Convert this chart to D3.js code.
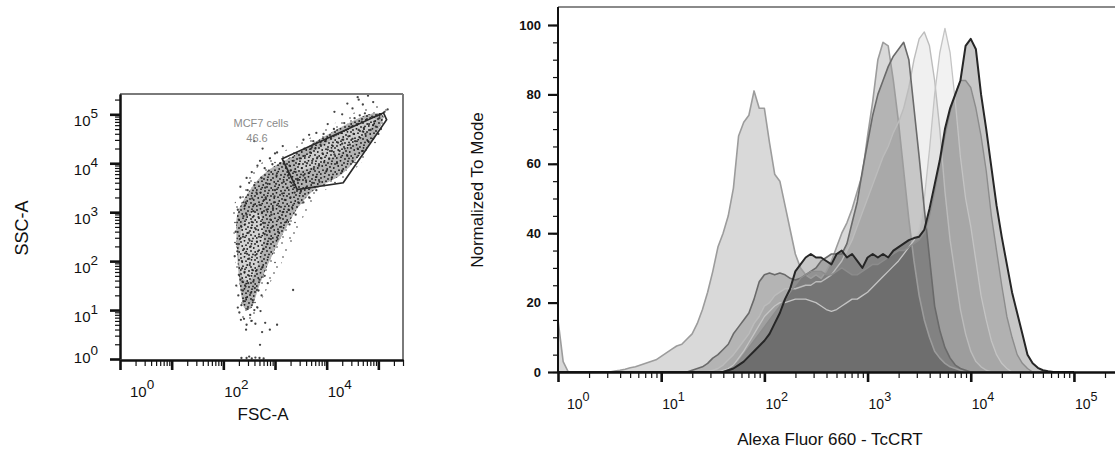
<!DOCTYPE html>
<html><head><meta charset="utf-8">
<script src="https://cdn.jsdelivr.net/npm/d3@7"></script>
<style>
html,body{margin:0;padding:0;background:#fff;}
svg{display:block;font-family:"Liberation Sans",Arial,sans-serif;}
</style></head><body>
<svg id="chart" width="1115" height="452"></svg>
<script>
// ---------- FSC-A / SSC-A dot plot (values are log10 of the channel) ----------
const scatterEvents = [
  // lower tail of the cloud
  [2.31,0.95],[2.35,1.10],[2.40,0.82],[2.44,1.25],[2.38,1.40],[2.52,0.90],[2.48,1.55],[2.33,1.62],
  [2.57,1.20],[2.61,1.45],[2.29,1.30],[2.45,0.70],[2.55,0.78],[2.66,1.05],[2.70,1.62],[2.41,1.78],
  [2.36,1.85],[2.50,1.70],[2.63,1.80],[2.74,1.30],[2.28,1.05],[2.47,1.02],[2.58,1.58],[2.39,1.18],
  [2.53,1.35],[2.34,0.80],[2.68,1.40],[2.80,1.70],[2.86,1.55],[2.43,1.48],[2.60,1.00],[2.25,1.50],
  [2.30,1.72],[2.76,1.88],[2.51,1.92],[2.44,0.60],[2.62,0.72],[2.72,0.98],[2.37,1.58],[2.56,1.82],
  [2.71,0.29],[2.45,0.02],[2.55,0.01],[2.62,0.03],[2.70,0.02],[2.78,0.01],[2.35,0.02],[2.50,0.05],
  [3.04,0.70],[2.75,0.55],[2.90,0.60],[2.81,0.74],[3.35,1.41],
  // main body
  [2.22,2.10],[2.26,2.35],[2.24,2.60],[2.30,2.85],[2.28,3.05],[2.33,3.30],[2.36,2.00],[2.40,2.25],
  [2.38,2.50],[2.42,2.75],[2.45,2.95],[2.43,3.20],[2.47,3.45],[2.50,2.05],[2.53,2.30],[2.49,2.58],
  [2.55,2.80],[2.58,3.02],[2.56,3.28],[2.60,3.55],[2.62,2.12],[2.65,2.40],[2.63,2.65],[2.68,2.90],
  [2.70,3.15],[2.72,3.40],[2.74,3.70],[2.78,2.25],[2.80,2.55],[2.77,2.78],[2.84,3.05],[2.82,3.30],
  [2.86,3.58],[2.88,3.85],[2.92,2.45],[2.95,2.70],[2.93,2.95],[2.98,3.20],[3.00,3.45],[3.03,3.75],
  [3.06,2.60],[3.10,2.88],[3.08,3.12],[3.14,3.38],[3.17,3.62],[3.22,2.80],[3.26,3.05],[3.30,3.30],
  [3.35,3.55],[3.40,2.95],[3.45,3.20],[3.50,3.42],[2.27,2.20],[2.32,2.45],[2.35,2.70],[2.39,2.92],
  [2.41,3.12],[2.46,2.15],[2.51,2.42],[2.54,2.68],[2.57,2.90],[2.59,3.15],[2.64,3.40],[2.67,2.20],
  [2.69,2.50],[2.73,2.75],[2.75,3.00],[2.79,3.25],[2.81,3.50],[2.85,2.35],[2.89,2.62],[2.91,2.85],
  [2.96,3.08],[2.99,3.32],[3.02,3.58],[3.05,2.45],[3.12,2.70],[3.15,3.00],[3.19,3.25],[3.24,3.50],
  [3.28,2.75],[3.33,3.10],[3.38,3.40],[3.44,3.65],[3.55,3.20],[3.60,3.50],[3.66,3.30],[3.72,3.60],
  [3.80,3.45],[3.86,3.62],
  // sparse events above the body
  [2.33,3.52],[2.45,3.70],[2.55,3.82],[2.66,3.95],[2.71,4.05],[2.80,3.90],[2.90,4.10],[3.00,4.20],
  [3.04,4.22],[2.95,3.98],[2.60,4.45],[3.10,4.00],[2.50,3.60],[2.76,4.30],[3.15,4.35],
  // large cells
  [3.25,3.75],[3.28,3.95],[3.32,3.60],[3.36,4.05],[3.40,3.82],[3.44,3.68],[3.48,4.10],[3.52,3.90],
  [3.55,3.75],[3.58,4.15],[3.62,4.00],[3.65,3.80],[3.68,4.22],[3.72,4.05],[3.75,3.88],[3.78,4.30],
  [3.82,4.12],[3.85,3.95],[3.88,4.38],[3.92,4.20],[3.95,4.02],[3.98,4.45],[4.02,4.28],[4.05,4.10],
  [4.08,4.52],[4.12,4.35],[4.15,4.18],[4.18,4.58],[4.22,4.42],[4.25,4.25],[4.28,4.62],[4.32,4.48],
  [4.35,4.30],[4.38,4.68],[4.42,4.55],[4.45,4.38],[4.48,4.75],[4.52,4.60],[4.55,4.45],[4.58,4.80],
  [4.62,4.68],[4.65,4.52],[4.68,4.85],[4.72,4.72],[4.75,4.60],[4.78,4.90],[4.82,4.80],[4.85,4.68],
  [4.88,4.95],[4.92,4.85],[4.95,4.75],[4.98,4.98],[5.02,4.92],[5.05,5.00],[3.30,3.85],[3.46,3.98],
  [3.60,3.65],[3.70,4.30],[3.80,3.72],[3.90,4.10],[4.00,3.85],[4.10,4.25],[4.20,4.00],[4.30,4.40],
  [4.40,4.15],[4.50,4.50],[4.60,4.30],[4.70,4.65],[4.80,4.45],[4.90,4.78],[5.00,4.60],[3.42,4.20],
  [3.57,4.30],[3.74,4.45],[3.94,4.60],[4.14,4.70],[4.34,4.82],[4.54,4.92],[4.74,5.02],[4.64,4.98],
  [3.80,4.62],[4.02,4.80],[4.30,5.00],[4.50,5.12],[4.70,5.20],[4.90,5.25],[4.60,5.35],[4.80,5.38],
  [3.66,4.58],[4.15,5.05],[3.55,4.48],[4.40,5.22],[5.12,5.05],[5.18,5.10],[4.62,5.30],
  [4.30,3.85],[4.50,4.05],[4.70,4.25],[4.90,4.50],[4.10,3.70],[3.95,3.55],[5.05,4.70]
];
// envelopes of the event cloud (log10 FSC, log10 SSC)
const cloudOuter = [[2.18,2.90],[2.22,2.20],[2.27,1.60],[2.32,1.00],[2.42,0.72],[2.58,0.75],[2.70,1.10],
  [2.88,1.50],[3.15,2.00],[3.40,2.55],[3.60,3.00],[3.90,3.40],[4.40,3.72],[4.90,4.30],[5.15,4.80],
  [5.18,5.08],[4.90,5.18],[4.50,5.02],[4.00,4.72],[3.50,4.42],[3.10,4.22],[2.75,4.02],[2.45,3.68],[2.25,3.30]];
const cloudInner = [[2.25,2.80],[2.27,2.10],[2.32,1.50],[2.40,1.05],[2.55,1.05],[2.68,1.45],[2.85,1.90],
  [3.05,2.35],[3.25,2.75],[3.45,3.10],[3.75,3.45],[4.30,3.78],[4.80,4.35],[5.08,4.85],[5.05,5.02],
  [4.75,4.98],[4.30,4.75],[3.80,4.45],[3.35,4.15],[3.00,3.95],[2.70,3.70],[2.45,3.35],[2.30,3.05]];
const coreLower = [[2.30,2.05],[2.38,1.65],[2.52,1.60],[2.68,1.95],[2.78,2.45],[2.74,2.90],[2.55,3.00],[2.36,2.70]];
const coreGate  = [[3.45,3.85],[3.80,3.95],[4.25,4.20],[4.70,4.55],[4.95,4.88],[4.80,4.93],[4.30,4.62],[3.80,4.28],[3.45,4.05]];
const gateVertices = [[3.14,4.09],[5.10,5.03],[5.16,4.89],[4.32,3.60],[3.43,3.46]];
const gateName = "MCF7 cells";
const gatePercent = "46.6";

// ---------- TcCRT histograms, % of mode on a 0.05-decade grid ----------
const binStep = 0.05;
const binLog = d3.range(0, 101).map(i => +(i * binStep).toFixed(2));
const histA = [15,3,0,0,0,0,0,0,0,0, 0,0.3,0.5,0.8,1.2,1.5,2,2.5,3,3.5,
  4.5,5.5,6.5,7.5,8,9.5,11,14,18,23, 29,36,40,45,53,68,72,74,81,76,
  76,66,57,55,48,41,34,30,28,27, 28,27,29,32,36,40,43,47,52,57,
  68,78,90,95,94,84,72,58,44,32, 22,15,10,6,4,2.5,1.5,1,0.5,0,
  0,0,0,0,0,0,0,0,0,0, 0,0,0,0,0,0,0,0,0,0, 0];
const histB = [0,0,0,0,0,0,0,0,0,0, 0,0,0,0,0,0,0,0,0,0,
  0,0,0,0,0,0,0.5,1,1.5,2.5, 4,5,6.5,8,11,13,15,17,21,26,
  28,28.5,28,28.5,28,27,26.5,27,28,29, 30,32,33,34,34,34,37,43,49,58,
  66,74,80,84,88,91,93,95,90,76, 62,47,33,19,12,7,4,2,1,0.5,
  0,0,0,0,0,0,0,0,0,0, 0,0,0,0,0,0,0,0,0,0, 0];
const histC = [0,0,0,0,0,0,0,0,0,0, 0,0,0,0,0,0,0,0,0,0,
  0,0,0,0,0,0,0,0,0,0, 0.5,1,2,3.5,5,7,9,11,14,16,
  19,20,22,23,24,24,24,24.5,25,25, 26,26,27,28,30,32,35,38,42,46,
  50,54,58,62,65,69,72,76,82,90, 96,98,94,84,70,52,38,28,18,11,
  6,3,1.5,0.5,0,0,0,0,0,0, 0,0,0,0,0,0,0,0,0,0, 0];
const histD = [0,0,0,0,0,0,0,0,0,0, 0,0,0,0,0,0,0,0,0,0,
  0,0,0,0,0,0,0,0,0,0, 0,0,0.5,1,2,4,6,8.5,11,13.5,
  16,17.5,19,20,20,20.5,21,21,21,20.5, 20,19,18,17.5,18,19,20,21,21,22,
  23,24.5,26,27.5,29,30.5,32,34,36,38, 41,50,64,80,92,99,92,78,62,50,
  42,32,22,15,9,5,2.5,1,0,0, 0,0,0,0,0,0,0,0,0,0, 0];
const histE = [0,0,0,0,0,0,0,0,0,0, 0,0,0,0,0,0,0,0,0,0,
  0,0,0,0,0,0,0,0,0,0, 0,0,0,0.5,1.5,3,5,7,9,11,
  13,15,17,19,21,23,25,27,28,29, 29,29,28,28,29,30,29,28,28,29,
  30,31,31,32,33,34,35,35,36,37, 38,40,45,52,60,68,75,80,84,84,
  82,76,68,58,45,35,25,16,10,5, 2.5,1,0,0,0,0,0,0,0,0, 0];
const histF = [0,0,0,0,0,0,0,0,0,0, 0,0,0,0,0,0,0,0,0,0,
  0,0,0,0,0,0,0,0,0,0, 0,0,0,0.5,1,2,3,4.5,6,7.5,
  9,11,14,17,21,24,29,31,33,34, 33,33,32,31,34,35,33,34,32,30,
  33,34,33,34,33,35,36,37,38,38.6, 39,41,47,54,61,70,76,80,84,94,
  96,93,80,70,59,48,39,31,23,17, 11,5,2.5,1.2,0.5,0.2,0,0,0,0, 0];
const histSeries = [histA, histC, histD, histB, histE, histF];
const histLook = [
  {fill:0.15, stroke:"#9c9c9c", w:1.6},
  {fill:0.06, stroke:"#bcbcbc", w:1.4},
  {fill:0.05, stroke:"#c4c4c4", w:1.3},
  {fill:0.17, stroke:"#6a6a6a", w:1.6},
  {fill:0.11, stroke:"#8c8c8c", w:1.4},
  {fill:0.22, stroke:"#262626", w:2.0}
];

const logDecades = [0,1,2,3,4,5];
const leftXLabelDecades = [0,2,4];
const rightYTicks = [0,20,40,60,80,100];

const svg = d3.select("#chart");

// speckle textures for the dense parts of the dot plot
const defs = svg.append("defs");
const denseDots = [[1,2],[4.5,0.8],[8,3],[12,1.2],[15,4],[2.2,6],[6,5.2],[10,7],[13.8,8],[3,10.2],
  [7.2,9],[11,11],[15.2,12],[0.8,14],[5,13.2],[9,15],[13,14.4],[6.2,11.6],[11.5,3.8]];
const sparseDots = [[2,3],[11,1],[17,7],[6,10],[14,13],[3,17],[10,18],[15,2.5]];
function speckle(id, size, dots, r, col){
  const p = defs.append("pattern").attr("id",id).attr("patternUnits","userSpaceOnUse")
    .attr("width",size).attr("height",size);
  p.selectAll("circle").data(dots).join("circle")
    .attr("cx",d=>d[0]).attr("cy",d=>d[1]).attr("r",r).attr("fill",col);
}
speckle("speckleDense", 16, denseDots, 0.9, "#1c1c1c");
speckle("speckleSparse", 20, sparseDots, 0.8, "#333");

function minorTicks(domainMax){
  const out = [];
  for (const d of logDecades) for (let k = 2; k <= 9; k++) {
    const v = k * Math.pow(10, d);
    if (v <= domainMax) out.push(v);
  }
  return out;
}
function styleAxis(g, width){
  g.selectAll("path.domain").attr("stroke","#111").attr("stroke-width",2);
  g.selectAll(".tick line").attr("stroke","#111").attr("stroke-width",width);
}
function powerLabel(g, x, y, exp, size, anchor){
  const t = g.append("text").attr("x",x).attr("y",y)
    .attr("font-size",size).attr("fill","#111").attr("text-anchor",anchor||"start");
  t.append("tspan").text("10");
  t.append("tspan").attr("dy",-size*0.55).attr("font-size",size*0.9).text(exp);
}

// ================= left panel =================
const xL = d3.scaleLog().domain([1, 3e5]).range([120, 403]);
const yL = d3.scaleLog().domain([1, 2.6e5]).range([359, 94]);
const pL = ([a,b]) => [xL(Math.pow(10,a)), yL(Math.pow(10,b))];
const closed = pts => d3.line().curve(d3.curveCardinalClosed.tension(0.3))(pts.map(pL));

const left = svg.append("g");
left.append("path").attr("d", closed(cloudOuter)).attr("fill","url(#speckleSparse)");
left.append("path").attr("d", closed(cloudInner)).attr("fill","#b2b2b2");
left.append("path").attr("d", closed(coreLower)).attr("fill","#d2d2d2");
left.append("path").attr("d", closed(coreGate)).attr("fill","#cdcdcd");
left.append("path").attr("d", closed(cloudInner)).attr("fill","url(#speckleDense)");
left.append("g").selectAll("circle").data(scatterEvents).join("circle")
  .attr("cx", d => pL(d)[0]).attr("cy", d => pL(d)[1]).attr("r", 1.15)
  .attr("fill","#222").attr("fill-opacity",0.85);
left.append("path").attr("d", d3.line()(gateVertices.map(pL)) + "Z")
  .attr("fill","none").attr("stroke","#2a2a2a").attr("stroke-width",1.7);
left.append("text").attr("x",261).attr("y",127).attr("text-anchor","middle")
  .attr("font-size",11).attr("fill","#8a8a8a").text(gateName);
left.append("text").attr("x",257).attr("y",142).attr("text-anchor","middle")
  .attr("font-size",11).attr("fill","#8a8a8a").text(gatePercent);

// frame
left.append("line").attr("x1",120).attr("x2",403).attr("y1",94).attr("y2",94).attr("stroke","#7a7a7a").attr("stroke-width",2);
left.append("line").attr("x1",403).attr("x2",403).attr("y1",94).attr("y2",360).attr("stroke","#7a7a7a").attr("stroke-width",2);

// axes
const lxMinor = left.append("g").attr("transform","translate(0,360)")
  .call(d3.axisBottom(xL).tickValues(minorTicks(3e5)).tickSize(6).tickSizeOuter(0).tickFormat(""));
styleAxis(lxMinor, 1.2);
const lxMajor = left.append("g").attr("transform","translate(0,360)")
  .call(d3.axisBottom(xL).tickValues(logDecades.map(d=>Math.pow(10,d))).tickSize(10).tickSizeOuter(0).tickFormat(""));
styleAxis(lxMajor, 2.6);
const lyMinor = left.append("g").attr("transform","translate(120,0)")
  .call(d3.axisLeft(yL).tickValues(minorTicks(2.6e5)).tickSize(5).tickSizeOuter(0).tickFormat(""));
styleAxis(lyMinor, 1.2);
const lyMajor = left.append("g").attr("transform","translate(120,0)")
  .call(d3.axisLeft(yL).tickValues(logDecades.map(d=>Math.pow(10,d))).tickSize(10).tickSizeOuter(0).tickFormat(""));
styleAxis(lyMajor, 2.6);

for (const e of leftXLabelDecades) {
  const x = xL(Math.pow(10,e)) + (e === 0 ? 10 : 1);
  powerLabel(left, x, 397, e, 15, "start");
}
for (const e of logDecades) {
  const y = yL(Math.pow(10,e)) + (e === 0 ? 4 : 12);
  powerLabel(left, 98, y, e, 15, "end");
}
left.append("text").attr("transform","translate(28,228) rotate(-90)")
  .attr("text-anchor","middle").attr("font-size",18).attr("fill","#111").text("SSC-A");
left.append("text").attr("x",263).attr("y",420)
  .attr("text-anchor","middle").attr("font-size",17).attr("fill","#111").text("FSC-A");

// ================= right panel =================
const xR = d3.scaleLog().domain([1, 2.5e5]).range([558, 1115]);
const yR = d3.scaleLinear().domain([0, 100]).range([372, 25]);

const right = svg.append("g");
right.append("clipPath").attr("id","plotClip").append("rect")
  .attr("x",558).attr("y",7).attr("width",557).attr("height",365);
const plot = right.append("g").attr("clip-path","url(#plotClip)");

const area = d3.area()
  .x((d,i) => xR(Math.pow(10, binLog[i])))
  .y0(yR(0)).y1(d => yR(d));
const line = d3.line()
  .x((d,i) => xR(Math.pow(10, binLog[i])))
  .y(d => yR(d));

histSeries.forEach((s, k) => {
  plot.append("path").attr("d", area(s)).attr("fill","#000").attr("fill-opacity", histLook[k].fill);
});
histSeries.forEach((s, k) => {
  plot.append("path").attr("d", line(s)).attr("fill","none")
    .attr("stroke", histLook[k].stroke).attr("stroke-width", histLook[k].w)
    .attr("stroke-linejoin","round");
});

// frame top
right.append("line").attr("x1",558).attr("x2",1115).attr("y1",7).attr("y2",7).attr("stroke","#8a8a8a").attr("stroke-width",2);

const rxMinor = right.append("g").attr("transform","translate(0,372)")
  .call(d3.axisBottom(xR).tickValues(minorTicks(2.5e5)).tickSize(6).tickSizeOuter(0).tickFormat(""));
styleAxis(rxMinor, 1.2);
const rxMajor = right.append("g").attr("transform","translate(0,372)")
  .call(d3.axisBottom(xR).tickValues(logDecades.map(d=>Math.pow(10,d))).tickSize(10).tickSizeOuter(0).tickFormat(""));
styleAxis(rxMajor, 2.6);
const ryMinor = right.append("g").attr("transform","translate(558,0)")
  .call(d3.axisLeft(yR).tickValues(d3.range(0,101,5)).tickSize(5).tickSizeOuter(0).tickFormat(""));
styleAxis(ryMinor, 1.2);
ryMinor.select("path.domain").attr("d","M0,372V7");
const ryMajor = right.append("g").attr("transform","translate(558,0)")
  .call(d3.axisLeft(yR).tickValues(rightYTicks).tickSize(10).tickSizeOuter(0).tickFormat(""));
styleAxis(ryMajor, 2.2);
ryMajor.select("path.domain").remove();

for (const v of rightYTicks) {
  right.append("text").attr("x",541).attr("y",yR(v)).attr("dy","0.36em")
    .attr("text-anchor","end").attr("font-size",13).attr("font-weight","bold")
    .attr("fill","#111").text(v);
}
for (const e of logDecades) {
  const x = xR(Math.pow(10,e)) + (e === 0 ? 9 : 1);
  powerLabel(right, x, 409, e, 14, "start");
}
right.append("text").attr("transform","translate(483,190) rotate(-90)")
  .attr("text-anchor","middle").attr("font-size",17).attr("fill","#111").text("Normalized To Mode");
right.append("text").attr("x",830).attr("y",445)
  .attr("text-anchor","middle").attr("font-size",17).attr("fill","#111").text("Alexa Fluor 660 - TcCRT");
</script>
</body></html>
